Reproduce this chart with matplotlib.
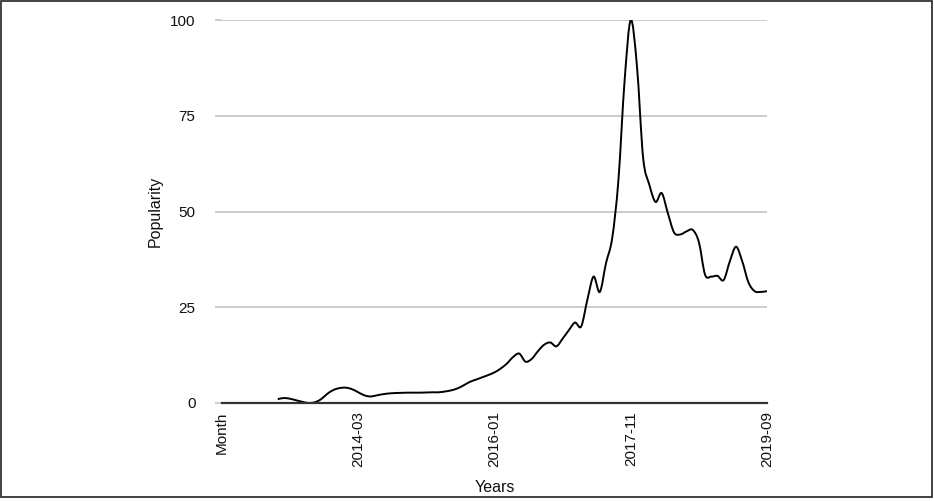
"""Popularity over time — smoothed monthly line chart."""

import matplotlib
matplotlib.use("Agg")
import matplotlib.pyplot as plt
from matplotlib.path import Path
from matplotlib.patches import PathPatch, Rectangle

# ── Data ──────────────────────────────────────────────────────────────────────
# month labels: header slot "Month", then 2012-06 .. 2019-09
months = ["Month"]
y, m = 2012, 6
while (y, m) <= (2019, 9):
    months.append(f"{y}-{m:02d}")
    m += 1
    if m > 12:
        y, m = y + 1, 1

first_idx = 9   # first month that has a value
popularity = [
    1.0, 1.3, 1.1, 0.7, 0.3, 0.0, 0.2, 1.0, 2.4, 3.4,
    3.9, 4.0, 3.6, 2.8, 2.0, 1.7, 2.0, 2.3, 2.5, 2.6,
    2.65, 2.7, 2.7, 2.7, 2.75, 2.8, 2.8, 3.0, 3.3, 3.8,
    4.6, 5.5, 6.1, 6.7, 7.3, 8.0, 9.0, 10.3, 12.0, 12.9,
    10.8, 11.5, 13.5, 15.2, 15.8, 14.8, 16.8, 19.0, 21.0, 20.0,
    27.0, 33.0, 29.0, 36.5, 43.0, 58.0, 84.0, 100.0, 88.0, 64.0,
    57.0, 52.5, 54.8, 49.5, 44.5, 44.0, 44.8, 45.2, 42.0, 33.5,
    33.0, 33.2, 32.1, 37.0, 40.8, 37.0, 31.5, 29.2, 29.0, 29.2,
]

tick_labels = ["Month", "2014-03", "2016-01", "2017-11", "2019-09"]
y_ticks = [0, 25, 50, 75, 100]

GRID = "#c4c4c4"
TEXT = "#111111"


def smooth_path(xs, ys, tension=0.5):
    """Catmull-Rom style cubic Bezier path through the points."""
    verts = [(xs[0], ys[0])]
    codes = [Path.MOVETO]
    n = len(xs)
    for i in range(n - 1):
        x0, y0 = (xs[i - 1], ys[i - 1]) if i > 0 else (xs[i], ys[i])
        x1, y1 = xs[i], ys[i]
        x2, y2 = xs[i + 1], ys[i + 1]
        x3, y3 = (xs[i + 2], ys[i + 2]) if i + 2 < n else (x2, y2)
        c1 = (x1 + (x2 - x0) * tension / 3, y1 + (y2 - y0) * tension / 3)
        c2 = (x2 - (x3 - x1) * tension / 3, y2 - (y3 - y1) * tension / 3)
        verts += [c1, c2, (x2, y2)]
        codes += [Path.CURVE4] * 3
    return Path(verts, codes)


plt.rcParams["font.family"] = ["Liberation Sans", "DejaVu Sans"]

fig = plt.figure(figsize=(9.34, 5.01), dpi=100)
ax = fig.add_axes([222 / 934, 1 - 403 / 501, 545 / 934, 383 / 501])

xs = list(range(first_idx, first_idx + len(popularity)))
ax.add_patch(PathPatch(smooth_path(xs, popularity, tension=0.5),
                       facecolor="none", edgecolor="black", linewidth=1.4,
                       zorder=3))

ax.set_xlim(0, len(months) - 1)
ax.set_ylim(0, 100)

ax.set_yticks(y_ticks)
ax.set_yticklabels([str(v) for v in y_ticks])
ax.yaxis.grid(True, color=GRID, linewidth=1.2)
ax.tick_params(axis="y", length=5, width=1.2, color=GRID, pad=14,
               labelsize=11, labelcolor=TEXT)

ax.set_xticks([months.index(t) for t in tick_labels])
ax.set_xticklabels(tick_labels, rotation=90, va="top", ha="center")
ax.tick_params(axis="x", length=0, pad=6, labelsize=11, labelcolor=TEXT)

for side in ("top", "right", "left"):
    ax.spines[side].set_visible(False)
ax.spines["bottom"].set_color("#333333")
ax.spines["bottom"].set_linewidth(1.6)
ax.spines["bottom"].set_zorder(4)

ax.set_xlabel("Years", fontsize=11.5, color=TEXT)
ax.set_ylabel("Popularity", fontsize=11.5, color=TEXT)
ax.xaxis.set_label_coords(0.5, -(488 - 403) / 383)
ax.yaxis.set_label_coords((155 - 222) / 545, 0.5)
ax.xaxis.label.set_va("center")
ax.yaxis.label.set_va("center")

# outer frame round the whole picture
fig.add_artist(Rectangle((0.5 / 934, 4 / 501), 931.5 / 934, 496.5 / 501,
                         transform=fig.transFigure, fill=False,
                         edgecolor="#222222", linewidth=1.2))

fig.savefig("out.png", dpi=100)
